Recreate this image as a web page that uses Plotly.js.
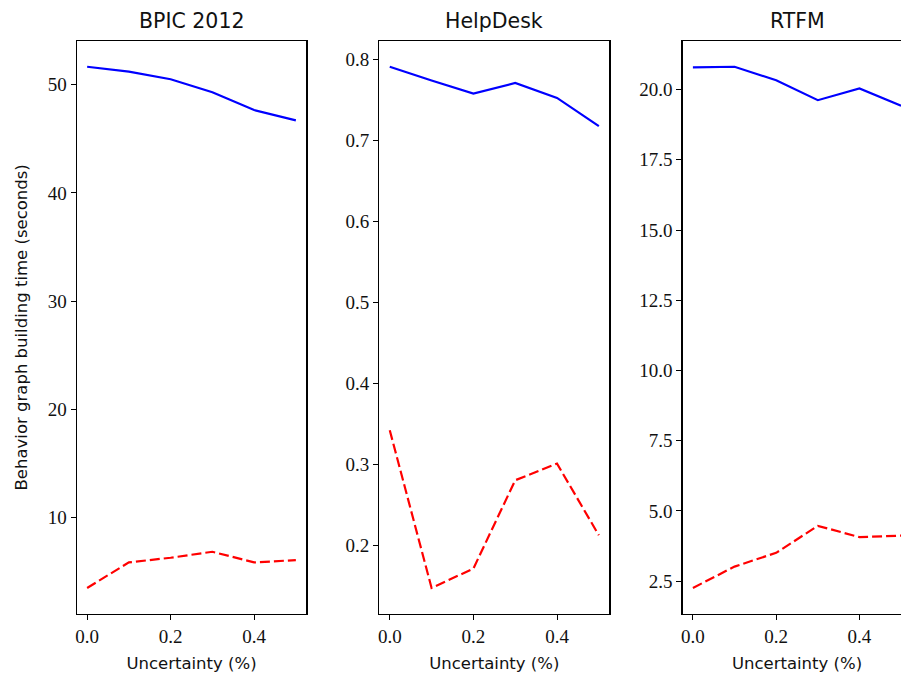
<!DOCTYPE html>
<html>
<head>
<meta charset="utf-8">
<script src="https://cdn.plot.ly/plotly-3.0.1.min.js"></script>
<style>
html,body{margin:0;padding:0;overflow:hidden;background:#fff;}
#chart{width:920px;height:675px;}
</style>
</head>
<body>
<div id="chart"></div>
<script>
// Data
const uncertainty = [0.0, 0.1, 0.2, 0.3, 0.4, 0.5];
const datasets = ["BPIC 2012", "HelpDesk", "RTFM"];
const bpicBlue = [51.65, 51.2, 50.5, 49.3, 47.65, 46.7];
const bpicRed = [3.52, 5.88, 6.31, 6.86, 5.88, 6.09];
const helpBlue = [0.791, 0.774, 0.758, 0.771, 0.7526, 0.7177];
const helpRed = [0.3424, 0.1477, 0.1716, 0.2806, 0.3012, 0.2127];
const rtfmBlue = [20.79, 20.81, 20.33, 19.62, 20.04, 19.42];
const rtfmRed = [2.26, 3.02, 3.51, 4.47, 4.07, 4.12];
const xTickVals = [0.0, 0.2, 0.4];
const xTitle = "Uncertainty (%)";
const yTitle = "Behavior graph building time (seconds)";

const W = 920, H = 675;
const blueSeries = [bpicBlue, helpBlue, rtfmBlue];
const redSeries = [bpicRed, helpRed, rtfmRed];

const traces = [];
for (let i = 0; i < 3; i++) {
  const ax = i === 0 ? "" : String(i + 1);
  traces.push({x: uncertainty, y: blueSeries[i], xaxis: "x" + ax, yaxis: "y" + ax,
    type: "scatter", mode: "lines", line: {color: "#0000ff", width: 2.2}, showlegend: false, hoverinfo: "x+y"});
  traces.push({x: uncertainty, y: redSeries[i], xaxis: "x" + ax, yaxis: "y" + ax,
    type: "scatter", mode: "lines", line: {color: "#ff0000", width: 2.2, dash: "10px,4px"}, showlegend: false, hoverinfo: "x+y"});
}

function rng(arr1, arr2) {
  const all = arr1.concat(arr2);
  const mn = Math.min(...all), mx = Math.max(...all);
  const m = (mx - mn) * 0.05;
  return [mn - m, mx + m];
}

const xDomPx = [[76.7, 306.3], [379.3, 609.3], [682.5, 911.5]];
const yDom = [(H - 614) / H, (H - 40.7) / H];
const tickFont = {family: "'Liberation Serif', 'DejaVu Serif', serif", size: 19, color: "#111"};
const sansFont = {family: "'DejaVu Sans', 'Liberation Sans', sans-serif", size: 16.5, color: "#111"};

const layout = {
  width: W, height: H,
  margin: {l: 0, r: 0, t: 0, b: 0},
  paper_bgcolor: "#fff", plot_bgcolor: "#fff",
  showlegend: false,
  annotations: []
};
const yDticks = [10, 0.1, 2.5];
const yFormats = ["", ".1f", ".1f"];
for (let i = 0; i < 3; i++) {
  const ax = i === 0 ? "" : String(i + 1);
  layout["xaxis" + ax] = {
    domain: [xDomPx[i][0] / W, xDomPx[i][1] / W],
    anchor: "y" + ax,
    range: [-0.025, 0.525],
    tickvals: xTickVals, tickformat: ".1f",
    ticks: "outside", ticklen: 5, tickwidth: 1, tickcolor: "#000",
    showline: true, mirror: true, linecolor: "#000", linewidth: 1.2,
    showgrid: false, zeroline: false,
    tickfont: tickFont,
    title: {text: xTitle, font: sansFont, standoff: 11}
  };
  const r = rng(blueSeries[i], redSeries[i]);
  const ya = {
    domain: yDom,
    anchor: "x" + ax,
    range: r,
    dtick: yDticks[i], tick0: 0, tickformat: yFormats[i],
    ticks: "outside", ticklen: 5, tickwidth: 1, tickcolor: "#000",
    showline: true, mirror: true, linecolor: "#000", linewidth: 1.2,
    showgrid: false, zeroline: false,
    tickfont: tickFont
  };
  if (i === 0) ya.title = {text: yTitle, font: sansFont, standoff: 16};
  layout["yaxis" + ax] = ya;
  layout.annotations.push({
    text: datasets[i], xref: "paper", yref: "paper",
    x: (xDomPx[i][0] + xDomPx[i][1]) / 2 / W, y: (H - 21) / H,
    xanchor: "center", yanchor: "middle", showarrow: false,
    font: {family: "'DejaVu Sans', 'Liberation Sans', sans-serif", size: 20.5, color: "#111"}
  });
}

Plotly.newPlot("chart", traces, layout, {displayModeBar: false, staticPlot: true});
</script>
</body>
</html>
